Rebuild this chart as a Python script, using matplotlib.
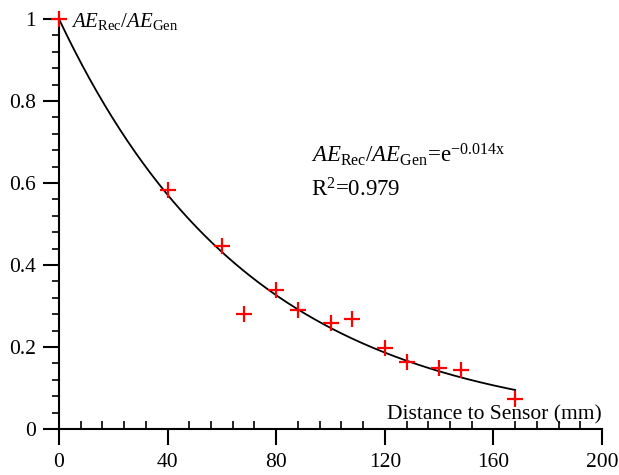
import numpy as np
import matplotlib
matplotlib.use("Agg")
import matplotlib.pyplot as plt
from matplotlib.ticker import MultipleLocator

plt.rcParams['font.family'] = ['Liberation Serif', 'DejaVu Serif']
plt.rcParams['mathtext.fontset'] = 'custom'
plt.rcParams['mathtext.rm'] = 'Liberation Serif'
plt.rcParams['mathtext.it'] = 'Liberation Serif:italic'
plt.rcParams['mathtext.bf'] = 'Liberation Serif:bold'

distance = [0, 40, 60, 68, 80, 88, 100, 108, 120, 128, 140, 148, 168]
ratio = [1.0, 0.583, 0.446, 0.280, 0.339, 0.290, 0.259, 0.268, 0.198, 0.163, 0.149, 0.144, 0.073]
fit_k = 0.014
xticks = [0, 40, 80, 120, 160, 200]
yticks = [0, 0.2, 0.4, 0.6, 0.8, 1.0]
ytick_labels = ['0', '0.2', '0.4', '0.6', '0.8', '1']

fig = plt.figure(figsize=(6.19, 4.75), dpi=100)
ax = fig.add_axes([59/619, 1-429/475, (602-59)/619, (429-19)/475])

xf = np.linspace(0, max(distance), 300)
ax.plot(xf, np.exp(-fit_k*xf), color='black', lw=1.3)
ax.plot(distance, ratio, linestyle='none', marker='+', color='red',
        markersize=11, markeredgewidth=1.6, clip_on=False, zorder=5)

ax.set_xlim(0, 200)
ax.set_ylim(0, 1)
for s in ['top', 'right']:
    ax.spines[s].set_visible(False)
for s in ['left', 'bottom']:
    ax.spines[s].set_linewidth(1.5)

ax.set_xticks(xticks)
ax.set_yticks(yticks)
ax.set_yticklabels(ytick_labels)
ax.xaxis.set_minor_locator(MultipleLocator(8))
ax.yaxis.set_minor_locator(MultipleLocator(0.04))
ax.tick_params(axis='x', which='major', direction='out', length=11.5, width=1.5, labelsize=15.5, pad=6)
ax.tick_params(axis='x', which='minor', direction='in', length=5.5, width=1.2)
ax.tick_params(axis='y', which='major', direction='out', length=11.5, width=1.5, labelsize=15.5, pad=5)
ax.tick_params(axis='y', which='minor', direction='out', length=5, width=1.2)

ax.text(200, 0.012, 'Distance to Sensor (mm)', ha='right', va='bottom', fontsize=15.5)
ax.text(4.5, 0.98, r'$AE_{\mathrm{Rec}}/AE_{\mathrm{Gen}}$', ha='left', va='baseline', fontsize=15)
ax.text(93, 0.651, r'$AE_{\mathrm{Rec}}/AE_{\mathrm{Gen}}$=e$^{\mathrm{-0.014x}}$', ha='left', va='baseline', fontsize=16.5)
ax.text(93, 0.566, r'R$^{\mathrm{2}}$=0.979', ha='left', va='baseline', fontsize=16.5)

fig.savefig('out.png', dpi=100)
